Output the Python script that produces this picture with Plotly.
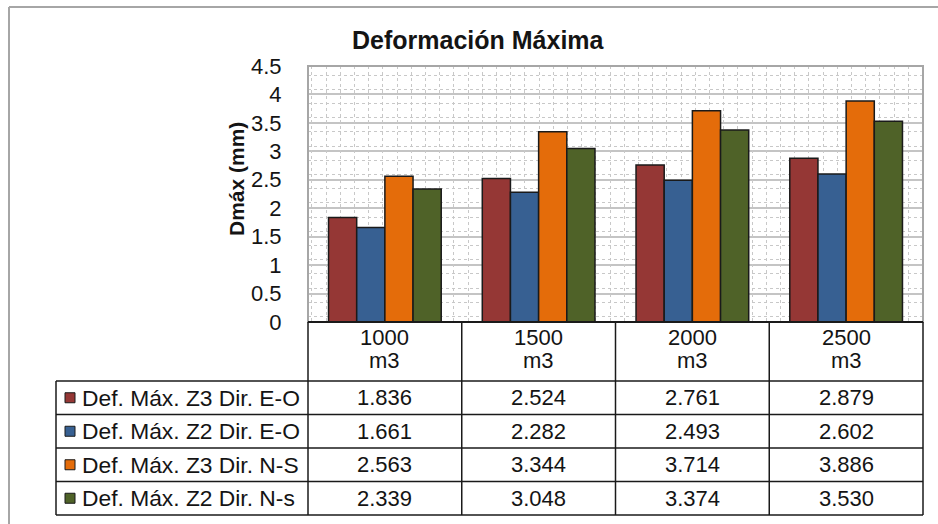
import plotly.graph_objects as go

# ---- data -------------------------------------------------------------
categories = ["1000", "1500", "2000", "2500"]
unit_label = "m3"
series_names = [
    "Def. Máx. Z3 Dir. E-O",
    "Def. Máx. Z2 Dir. E-O",
    "Def. Máx. Z3 Dir. N-S",
    "Def. Máx. Z2 Dir. N-s",
]
z3_eo = [1.836, 2.524, 2.761, 2.879]
z2_eo = [1.661, 2.282, 2.493, 2.602]
z3_ns = [2.563, 3.344, 3.714, 3.886]
z2_ns = [2.339, 3.048, 3.374, 3.530]
series_values = [z3_eo, z2_eo, z3_ns, z2_ns]
y_ticks = [0, 0.5, 1, 1.5, 2, 2.5, 3, 3.5, 4, 4.5]

title_text = "Deformación Máxima"
y_title = "Dmáx (mm)"

# ---- styling / geometry ----------------------------------------------
colors = ["#953735", "#376092", "#E46C0A", "#4F6228"]
FONT = "Liberation Sans, Arial, sans-serif"
TXT = "#141414"
W, H = 938, 524
L, R, T, B = 308, 15, 66, 202
PW, PH = W - L - R, H - T - B


def px(x):
    """pixel column -> paper x"""
    return (x - L) / PW


def py(y):
    """pixel row -> paper y"""
    return (H - B - y) / PH


fig = go.Figure()

for name, vals, col in zip(series_names, series_values, colors):
    fig.add_trace(go.Bar(
        x=categories, y=vals, name=name,
        marker=dict(color=col, line=dict(color="#1a1a1a", width=1.5)),
        showlegend=False, hoverinfo="x+y+name",
    ))

# empty trace so the overlay axes (dotted background pattern) exist
fig.add_trace(go.Scatter(x=[], y=[], xaxis="x2", yaxis="y2",
                         showlegend=False, hoverinfo="skip"))

shapes = []
annotations = []

# outer chart frame
shapes.append(dict(type="line", xref="paper", yref="paper",
                   x0=px(9), x1=px(W + 5), y0=py(7), y1=py(7),
                   line=dict(color="#a6a6a6", width=2)))
shapes.append(dict(type="line", xref="paper", yref="paper",
                   x0=px(9), x1=px(9), y0=py(7), y1=py(H + 5),
                   line=dict(color="#a6a6a6", width=2)))

# plot area border
shapes.append(dict(type="rect", xref="paper", yref="paper",
                   x0=0, x1=1, y0=0, y1=1,
                   line=dict(color="#a6a6a6", width=2), layer="above"))

# data table grid
row_y = [381, 414.5, 448, 481.5, 515]
col_w = PW / len(categories)
tbl_left = 56
line_style = dict(color="#1a1a1a", width=1.5)
shapes.append(dict(type="line", xref="paper", yref="paper",
                   x0=0, x1=1, y0=0, y1=0, line=dict(color="#1a1a1a", width=2),
                   layer="above"))
for i in range(len(categories) + 1):
    xx = L + i * col_w
    shapes.append(dict(type="line", xref="paper", yref="paper",
                       x0=px(xx), x1=px(xx), y0=0, y1=py(row_y[-1]),
                       line=line_style))
shapes.append(dict(type="line", xref="paper", yref="paper",
                   x0=px(tbl_left), x1=px(tbl_left), y0=py(row_y[0]), y1=py(row_y[-1]),
                   line=line_style))
for yy in row_y:
    shapes.append(dict(type="line", xref="paper", yref="paper",
                       x0=px(tbl_left), x1=1, y0=py(yy), y1=py(yy),
                       line=line_style))

# category header cells (two text lines: value and unit)
for i, cat in enumerate(categories):
    for txt, yy in ((cat, 337), (unit_label, 360)):
        annotations.append(dict(
            xref="paper", yref="paper", x=px(L + (i + 0.5) * col_w), y=py(yy),
            text=txt, showarrow=False, xanchor="center", yanchor="middle",
            font=dict(family=FONT, size=22, color=TXT)))

# series rows: legend key, name and values
for r, (name, vals, col) in enumerate(zip(series_names, series_values, colors)):
    yc = (row_y[r] + row_y[r + 1]) / 2
    shapes.append(dict(type="rect", xref="paper", yref="paper",
                       x0=px(65), x1=px(75), y0=py(yc - 5), y1=py(yc + 5),
                       fillcolor=col, line=dict(color="#1a1a1a", width=1)))
    annotations.append(dict(
        xref="paper", yref="paper", x=px(80), y=py(yc),
        text=name, showarrow=False, xanchor="left", yanchor="middle",
        font=dict(family=FONT, size=22.8, color=TXT)))
    for i, v in enumerate(vals):
        annotations.append(dict(
            xref="paper", yref="paper", x=px(L + (i + 0.5) * col_w), y=py(yc),
            text=f"{v:.3f}", showarrow=False, xanchor="center", yanchor="middle",
            font=dict(family=FONT, size=22, color=TXT)))

# titles
annotations.append(dict(
    xref="paper", yref="paper", x=px(478), y=py(40), text=f"<b>{title_text}</b>",
    showarrow=False, xanchor="center", yanchor="middle",
    font=dict(family=FONT, size=25, color=TXT)))
annotations.append(dict(
    xref="paper", yref="paper", x=px(236), y=py(179), text=f"<b>{y_title}</b>",
    showarrow=False, xanchor="center", yanchor="middle", textangle=-90,
    font=dict(family=FONT, size=21, color=TXT)))

fig.update_layout(
    width=W, height=H,
    margin=dict(l=L, r=R, t=T, b=B, pad=0),
    paper_bgcolor="white", plot_bgcolor="white",
    barmode="group", bargap=0.267, bargroupgap=0,
    showlegend=False,
    shapes=shapes, annotations=annotations,
    xaxis=dict(showticklabels=False, ticks="", showgrid=False,
               showline=False, zeroline=False, fixedrange=True),
    yaxis=dict(range=[0, 4.5], tickvals=y_ticks,
               ticktext=[f"{t:g}" for t in y_ticks],
               ticks="outside", ticklen=21, tickcolor="rgba(0,0,0,0)",
               tickfont=dict(family=FONT, size=22, color=TXT),
               showgrid=True, gridcolor="#c4c4c4", gridwidth=2,
               zeroline=False, showline=False, fixedrange=True),
    xaxis2=dict(overlaying="x", range=[-0.28, 43.03], dtick=1,
                showgrid=True, griddash="dot", gridcolor="#c8c8c8", gridwidth=1,
                showticklabels=False, ticks="", zeroline=False, showline=False),
    yaxis2=dict(overlaying="y", range=[-17.39, 0.634], dtick=1,
                showgrid=True, griddash="dot", gridcolor="#c8c8c8", gridwidth=1,
                showticklabels=False, ticks="", zeroline=False, showline=False),
)

fig.write_html("out.html")
